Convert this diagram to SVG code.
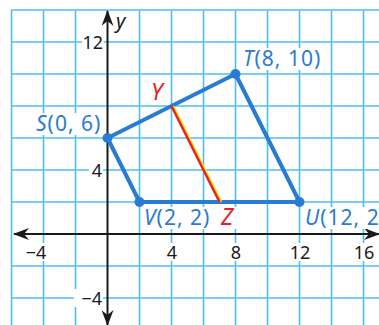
<svg xmlns="http://www.w3.org/2000/svg" width="379" height="325" viewBox="0 0 379 325">
<style>
.grid{stroke:#4fc0e8;stroke-width:1.6;fill:none}
.axis{stroke:#1a1a1a;stroke-width:2;fill:none}
.tick{font-family:"Noto Sans",sans-serif;font-size:18px;fill:#1a1a1a}
.bg{fill:#ffffff}
.lbl{font-family:"Noto Sans",sans-serif;font-size:21px;letter-spacing:1px;fill:#2a7bd2}
.red{font-family:"Noto Sans",sans-serif;font-size:23px;fill:#e8202a;font-style:italic}
.it{font-style:italic}
.edge{stroke:#2a7bd2;stroke-width:4;fill:none;stroke-linejoin:round;stroke-linecap:round}
.dot{fill:#2a7bd2}
</style>
<defs>
<marker id="ah" viewBox="0 0 16 12" refX="15" refY="6" markerWidth="16" markerHeight="12" markerUnits="userSpaceOnUse" orient="auto">
<path d="M0,0 L16,6 L0,12 L5,6 Z" fill="#1a1a1a"/>
</marker>
</defs>
<rect width="379" height="325" fill="#ffffff"/>
<g id="grid" class="grid">
<path d="M11.5,10V325M43.5,10V325M75.5,10V325M139.5,10V325M171.5,10V325M203.5,10V325M235.5,10V325M267.5,10V325M299.5,10V325M331.5,10V325M363.5,10V325"/>
<path d="M11.5,10H379M11.5,42H379M11.5,74H379M11.5,106H379M11.5,138H379M11.5,170H379M11.5,202H379M11.5,266H379M11.5,298H379"/>
</g>
<g id="axes">
<line class="axis" x1="107.5" y1="234" x2="14" y2="234" marker-end="url(#ah)"/>
<line class="axis" x1="107.5" y1="234" x2="379" y2="234" marker-end="url(#ah)"/>
<line class="axis" x1="107.5" y1="234" x2="107.5" y2="11" marker-end="url(#ah)"/>
<line class="axis" x1="107.5" y1="234" x2="107.5" y2="325" marker-end="url(#ah)"/>
<text class="tick it" x="116" y="28" style="font-size:20px">y</text>
</g>
<g id="ticks">
<rect class="bg" x="82" y="33" width="22" height="18"/>
<text class="tick" x="103" y="49" text-anchor="end">12</text>
<rect class="bg" x="89" y="161" width="14" height="18"/>
<text class="tick" x="102" y="177" text-anchor="end">4</text>
<rect class="bg" x="74" y="289" width="29" height="18"/>
<text class="tick" x="102" y="305" text-anchor="end">−4</text>
<rect class="bg" x="22" y="243" width="28" height="18"/>
<text class="tick" x="36" y="259" text-anchor="middle">−4</text>
<rect class="bg" x="165" y="243" width="14" height="18"/>
<text class="tick" x="172" y="259" text-anchor="middle">4</text>
<rect class="bg" x="229" y="243" width="14" height="18"/>
<text class="tick" x="236" y="259" text-anchor="middle">8</text>
<rect class="bg" x="289" y="243" width="22" height="18"/>
<text class="tick" x="300" y="259" text-anchor="middle">12</text>
<rect class="bg" x="353" y="243" width="22" height="18"/>
<text class="tick" x="364" y="259" text-anchor="middle">16</text>
</g>
<g id="connectors">
<path class="edge" d="M107.5,138 L235.5,74 L299.5,202 L139.5,202 Z"/>
<line x1="173" y1="106" x2="221" y2="202" stroke="#f5e400" stroke-width="2.5"/>
<line x1="171.5" y1="106" x2="219.5" y2="202" stroke="#e8202a" stroke-width="2.5"/>
</g>
<g id="node-S">
<circle class="dot" cx="107.5" cy="138" r="5"/>
<rect class="bg" x="34" y="113" width="70" height="22"/>
<text class="lbl" x="36" y="131"><tspan class="it">S</tspan>(0, 6)</text>
</g>
<g id="node-T">
<circle class="dot" cx="235.5" cy="74" r="5"/>
<rect class="bg" x="241" y="48" width="86" height="22"/>
<text class="lbl" x="243" y="66"><tspan class="it">T</tspan>(8, 10)</text>
</g>
<g id="node-U">
<circle class="dot" cx="299.5" cy="202" r="5"/>
<rect class="bg" x="303" y="207" width="76" height="22"/>
<text class="lbl" x="305" y="225"><tspan class="it">U</tspan>(12, 2</text>
</g>
<g id="node-V">
<circle class="dot" cx="139.5" cy="202" r="5"/>
<rect class="bg" x="142" y="207" width="74" height="22"/>
<text class="lbl" x="144" y="225"><tspan class="it">V</tspan>(2, 2)</text>
</g>
<g id="node-Y">
<text class="red" x="151" y="100">Y</text>
</g>
<g id="node-Z">
<rect class="bg" x="219" y="207" width="18" height="22"/>
<text class="red" x="221" y="225">Z</text>
</g>
</svg>
